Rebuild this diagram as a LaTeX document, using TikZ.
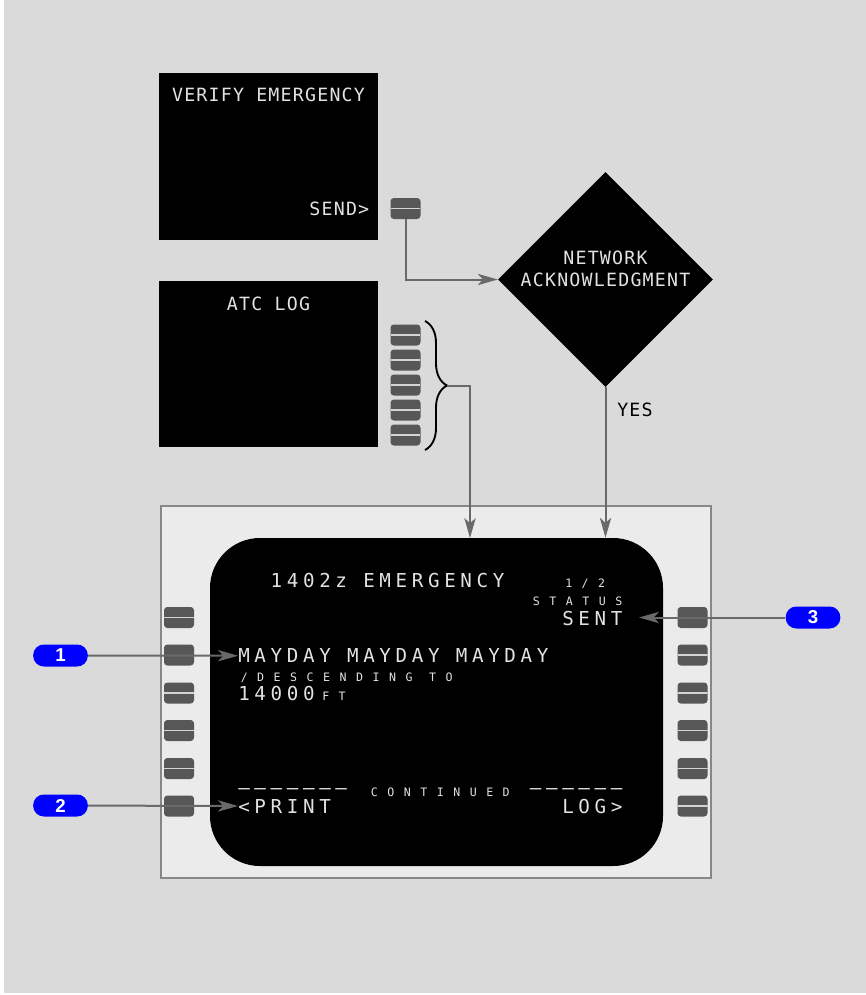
\documentclass[tikz,border=0pt]{standalone}
\usepackage{fontspec}
\newfontfamily\labelfont{DejaVu Sans Mono}[LetterSpace=6.6]
\newfontfamily\cdubig{DejaVu Sans Mono}[LetterSpace=24.2]
\newfontfamily\cdusmall{DejaVu Sans Mono}[LetterSpace=81.9]
\newfontfamily\pillfont{Liberation Sans}
\usetikzlibrary{arrows.meta,calc,shapes.geometric,decorations.pathreplacing}
\definecolor{bggray}{HTML}{DADADA}
\definecolor{bezel}{HTML}{EBEBEB}
\definecolor{bezelline}{HTML}{878787}
\definecolor{keygray}{HTML}{575757}
\definecolor{keystripe}{HTML}{D4D4D4}
\definecolor{conngray}{HTML}{696969}
\definecolor{cdutext}{HTML}{E2E2E2}
\definecolor{pillblue}{HTML}{0000FF}

\begin{document}
\begin{tikzpicture}[x=0.75pt,y=-0.75pt,>={Stealth[length=15pt,width=8.5pt,inset=4pt]},
  screen/.style={fill=black,inner sep=0},
  lbl/.style={text=cdutext,font=\fontsize{13.7}{16}\labelfont,inner sep=0,anchor=base},
  cdulg/.style={text=cdutext,font=\fontsize{14.4}{16}\cdubig,inner sep=0,anchor=base west},
  cdusm/.style={text=cdutext,font=\fontsize{8.7}{10}\cdusmall,inner sep=0,anchor=base west},
  softkey/.style={fill=keygray,rounded corners=2.5pt,minimum width=22.5pt,minimum height=15.75pt,inner sep=0},
  keyline/.style={softkey,path picture={\draw[keystripe,line width=1.3pt] (path picture bounding box.west) -- (path picture bounding box.east);}},
  conn/.style={draw=conngray,line width=1.5pt},
  pill/.style={fill=pillblue,text=white,rounded corners=8pt,minimum width=41pt,minimum height=16.5pt,inner sep=0,font=\fontsize{14}{16}\pillfont\bfseries}]
\useasboundingbox (0,0) rectangle (866,995);
\fill[white] (0,0) rectangle (866,995);
\fill[bggray] (4,0) rectangle (866,993);
% upper pages
\node[screen,minimum width=164.25pt,minimum height=125.25pt] (verify) at (268.5,156.5) {};
\node[lbl] at (268.5,101.7) {VERIFY EMERGENCY};
\node[lbl,anchor=base east] at (369.5,215.7) {SEND>};
\node[keyline] (sendkey) at (405.5,208.5) {};
\node[screen,minimum width=164.25pt,minimum height=124.5pt] (atclog) at (268.5,364) {};
\node[lbl] at (268.5,310) {ATC LOG};
\foreach \i/\y in {1/335,2/360,3/385,4/410,5/435} \node[keyline] (logkey\i) at (405.5,\y) {};
\draw[decorate,decoration={brace,amplitude=16.5pt},line width=1.4pt] (425,321) -- (425,450);
\coordinate (bracetip) at (447,385.5);
% decision
\node[diamond,fill=black,minimum width=161.25pt,minimum height=161.25pt,inner sep=0] (netack) at (605.5,279.5) {};
\node[lbl] at (605.5,264) {NETWORK};
\node[lbl] at (605.5,286.7) {ACKNOWLEDGMENT};
\node[lbl,text=black,anchor=base west] at (617,416.7) {YES};
% display unit
\node[draw=bezelline,line width=1.5pt,fill=bezel,minimum width=412.5pt,minimum height=279pt,inner sep=0] (bezel) at (436,692) {};
\node[screen,rounded corners=37.5pt,minimum width=339.75pt,minimum height=246pt] (cdu) at (436.5,702) {};
\foreach \i/\y/\s in {1/617.5/keyline,2/655/softkey,3/693/keyline,4/730.5/keyline,5/768.5/keyline,6/806/softkey}
  \node[\s] (lsk\i) at (179,\y) {};
\foreach \i/\y/\s in {1/617.5/softkey,2/655/keyline,3/693/keyline,4/730.5/keyline,5/768.5/keyline,6/806/keyline}
  \node[\s] (rsk\i) at (692.5,\y) {};
\node[cdulg] (title) at (270.4,587) {1402z EMERGENCY};
\node[cdusm] at (565,587) {1/2};
\node[cdusm] at (532.6,605.7) {STATUS};
\node[cdulg] (sent) at (562,625) {SENT};
\node[cdulg] (mayday) at (238,662.7) {MAYDAY MAYDAY MAYDAY};
\node[cdusm] at (240.5,681.7) {/DESCENDING TO};
\node[cdulg] (alt) at (238,700.7) {14000};
\node[cdusm] at (322,700.7) {FT};
\node[cdulg] at (238,794) {–––––––};
\node[cdusm] at (370.6,796) {CONTINUED};
\node[cdulg] at (529.6,794) {––––––};
\node[cdulg] (print) at (238,813) {<PRINT};
\node[cdulg] (log) at (562,813) {LOG>};
\coordinate (atcin) at (470,538);
\coordinate (senttip) at (639,617.5);
% callouts
\node[pill] (callone) at (60.5,655.5) {1};
\node[pill] (calltwo) at (60.5,805.5) {2};
\node[pill] (callthree) at (813,617.5) {3};
\draw[conn,->] (sendkey.south) |- (netack.west);
\draw[conn,->] (bracetip) -| (atcin);
\draw[conn,->] (netack.south) -- (netack.south |- cdu.north);
\draw[conn,->] (callone) -- (mayday.west);
\draw[conn,->] (calltwo) -- (print.west);
\draw[conn,->] (callthree) -- (senttip);
\end{tikzpicture}
\end{document}
